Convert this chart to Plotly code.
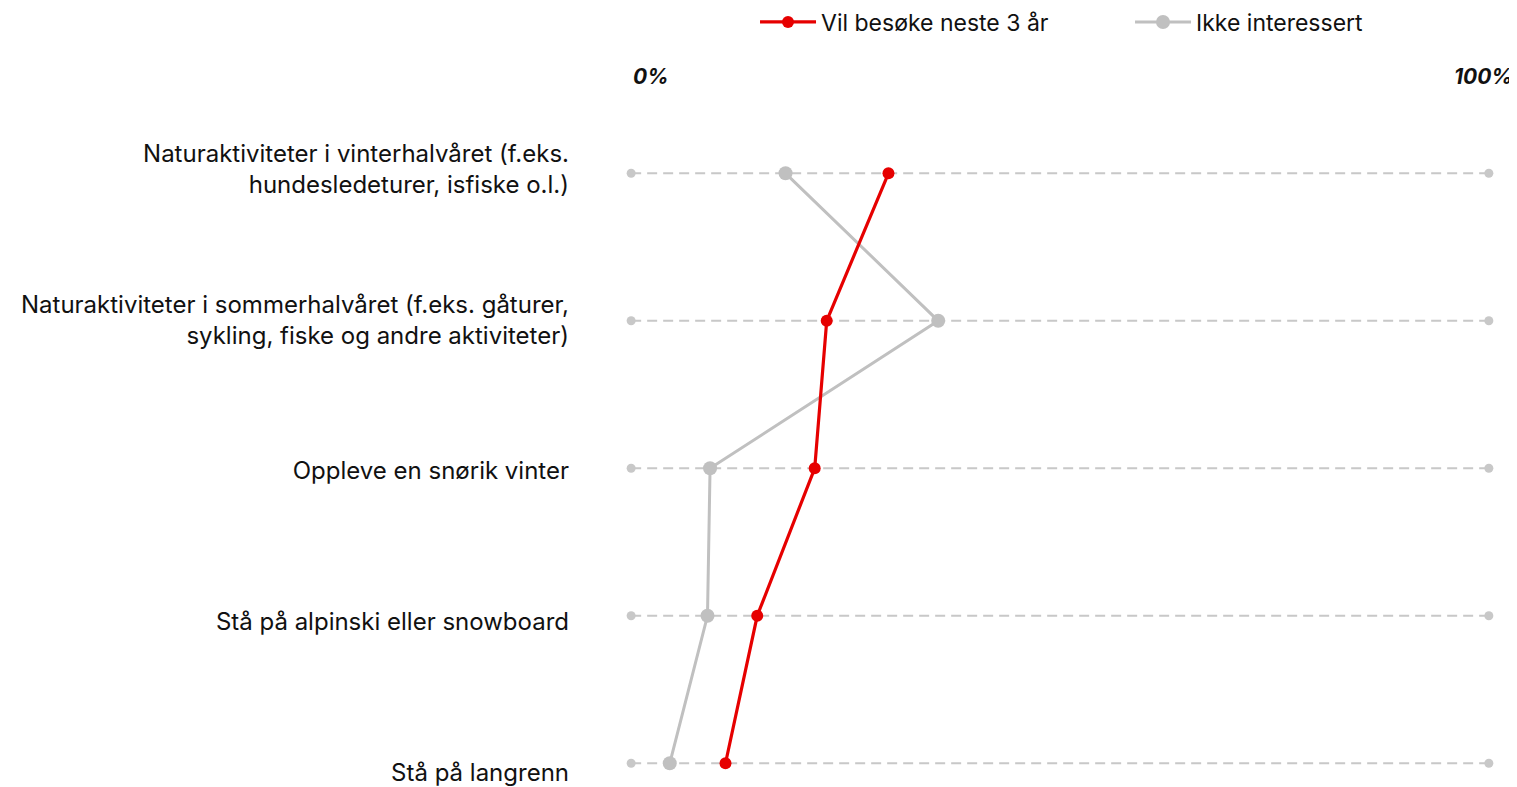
import plotly.graph_objects as go

categories = [
    "Naturaktiviteter i vinterhalvåret (f.eks.<br>hundesledeturer, isfiske o.l.)",
    "Naturaktiviteter i sommerhalvåret (f.eks. gåturer,<br>sykling, fiske og andre aktiviteter)",
    "Oppleve en snørik vinter",
    "Stå på alpinski eller snowboard",
    "Stå på langrenn",
]
vil_besoke = [30, 22.8, 21.4, 14.7, 11]
ikke_interessert = [18, 35.8, 9.2, 8.9, 4.5]
series_names = ["Vil besøke neste 3 år", "Ikke interessert"]
scale_min, scale_max = 0, 100
scale_labels = ["0%", "100%"]

FONT = "Inter"
RED = "#e60000"
GRAY = "#c0c0c0"
GUIDE = "#c8c8c8"

idx = list(range(len(categories)))
fig = go.Figure()

# dashed guide lines with end dots
for i in idx:
    fig.add_trace(go.Scatter(
        x=[scale_min, scale_max], y=[i, i], mode="lines+markers",
        line=dict(color=GUIDE, width=2, dash="10px,6px"),
        marker=dict(color=GUIDE, size=9),
        showlegend=False, hoverinfo="skip"))

fig.add_trace(go.Scatter(
    x=ikke_interessert, y=idx, mode="lines+markers", name=series_names[1],
    line=dict(color=GRAY, width=3), marker=dict(color=GRAY, size=14),
    legendrank=2))
fig.add_trace(go.Scatter(
    x=vil_besoke, y=idx, mode="lines+markers", name=series_names[0],
    line=dict(color=RED, width=3.2), marker=dict(color=RED, size=12),
    legendrank=1))

# invisible trace for label axis
fig.add_trace(go.Scatter(x=[None], y=[None], yaxis="y2", showlegend=False,
                         hoverinfo="skip"))

fig.add_annotation(x=scale_min, y=1, xref="x", yref="paper", text="<b><i>%s</i></b>" % scale_labels[0],
                   showarrow=False, xanchor="left", yanchor="middle", yshift=24,
                   font=dict(family=FONT, size=21, color="#111"))
fig.add_annotation(x=scale_max, y=1, xref="x", yref="paper", text="<b><i>%s</i></b>" % scale_labels[1],
                   showarrow=False, xanchor="center", yanchor="middle", yshift=24, xshift=-5,
                   font=dict(family=FONT, size=21, color="#111"))

fig.update_layout(
    width=1509, height=779,
    margin=dict(l=606, r=11, t=92, b=10, autoexpand=False),
    paper_bgcolor="white", plot_bgcolor="white",
    font=dict(family=FONT, size=24, color="#111"),
    xaxis=dict(range=[-2, 102], showgrid=False, zeroline=False, showticklabels=False,
               showline=False, fixedrange=True),
    yaxis=dict(range=[4.093, -0.497], showgrid=False, zeroline=False,
               showticklabels=False, showline=False),
    yaxis2=dict(range=[4.026, -0.457], overlaying="y", side="left",
                tickvals=idx, ticktext=categories, showgrid=False, zeroline=False,
                showline=False, ticks="", ticklabelstandoff=44,
                ticklabeloverflow="allow",
                tickfont=dict(family=FONT, size=24, color="#111")),
    legend=dict(orientation="h", x=0.5785, xanchor="center", y=0.982, yanchor="middle",
                yref="container", font=dict(family=FONT, size=23, color="#111"),
                itemwidth=56, entrywidth=304, traceorder="normal"),
    showlegend=True,
)

fig.write_html("out.html")
